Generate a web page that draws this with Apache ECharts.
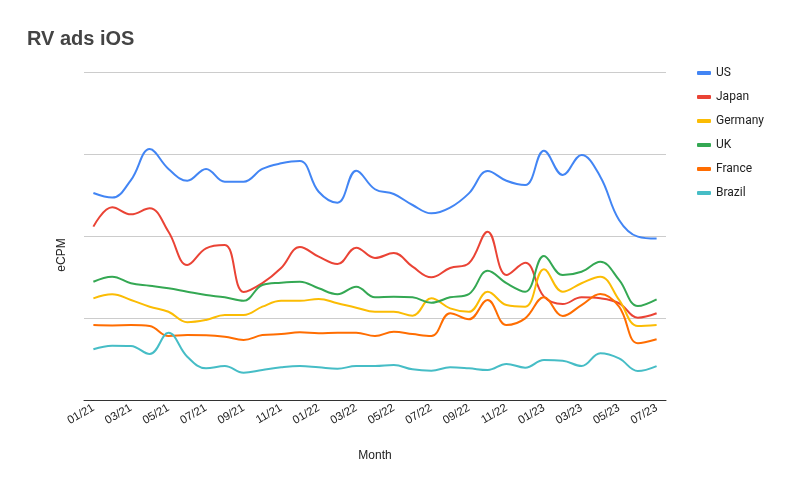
<!DOCTYPE html>
<html><head><meta charset="utf-8">
<script src="https://cdn.jsdelivr.net/npm/echarts@6/dist/echarts.min.js"></script>
<style>html,body{margin:0;padding:0;background:#fff}#c{width:787px;height:486px}</style>
</head><body><div id="c"></div>
<script>
const months = ["01/21","02/21","03/21","04/21","05/21","06/21","07/21","08/21","09/21","10/21","11/21","12/21",
"01/22","02/22","03/22","04/22","05/22","06/22","07/22","08/22","09/22","10/22","11/22","12/22",
"01/23","02/23","03/23","04/23","05/23","06/23","07/23"];
const us = [12.62,12.34,13.41,15.30,14.09,13.37,14.09,13.31,13.31,14.09,14.43,14.57,12.70,12.03,13.98,12.85,12.56,11.89,11.38,11.73,12.60,13.96,13.37,13.11,15.20,13.72,14.94,13.62,10.98,9.96,9.84];
const japan = [10.57,11.75,11.32,11.69,10.26,8.23,9.25,9.45,6.59,7.13,8.05,9.33,8.74,8.29,9.29,8.66,8.96,8.13,7.48,8.05,8.34,10.26,7.62,8.37,6.30,5.85,6.26,6.20,5.90,5.02,5.29];
const germany = [6.20,6.45,6.10,5.69,5.38,4.74,4.88,5.18,5.18,5.69,6.05,6.05,6.16,5.90,5.63,5.38,5.38,5.14,6.20,5.59,5.38,6.60,5.79,5.69,7.97,6.60,7.12,7.52,6.10,4.51,4.57];
const uk = [7.21,7.52,7.12,6.97,6.81,6.60,6.40,6.26,6.05,7.01,7.15,7.21,6.81,6.45,6.91,6.26,6.30,6.26,5.93,6.26,6.46,7.88,7.12,6.60,8.78,7.62,7.82,8.43,7.32,5.73,6.14];
const france = [4.57,4.55,4.57,4.51,3.90,3.96,3.95,3.86,3.66,3.96,4.02,4.13,4.07,4.10,4.10,3.90,4.16,4.02,3.90,5.29,4.92,6.10,4.57,4.98,6.26,5.12,5.79,6.46,5.69,3.46,3.70];
const brazil = [3.09,3.31,3.29,2.80,4.10,2.64,1.93,2.07,1.66,1.83,1.99,2.07,1.99,1.91,2.07,2.07,2.13,1.87,1.79,1.99,1.93,1.83,2.20,1.97,2.44,2.40,2.07,2.85,2.54,1.77,2.07];
const seriesNames = ["US","Japan","Germany","UK","France","Brazil"];
const seriesData = [us, japan, germany, uk, france, brazil];
const colors = ["#4285F4","#EA4335","#FBBC04","#34A853","#FF6D01","#46BDC6"];

const chart = echarts.init(document.getElementById('c'), null, {renderer:'canvas'});
chart.setOption({
  animation:false,
  color: colors,
  title:{text:"RV ads iOS", left:22, top:24, textStyle:{fontFamily:"'Liberation Sans', Arial, sans-serif", fontSize:20, fontWeight:'bold', color:'#444'}},
  legend:{orient:'vertical', left:692, top:62, itemGap:12, itemWidth:14, itemHeight:4,
    icon:'roundRect', textStyle:{fontFamily:"Roboto, Arial, sans-serif", fontSize:12, color:'#222'},
    data: seriesNames},
  grid:{left:84, right:121, top:72, bottom:86},
  xAxis:{type:'category', data:months, boundaryGap:true,
    name:'Month', nameLocation:'middle', nameGap:50,
    nameTextStyle:{fontFamily:"'Liberation Sans', Arial, sans-serif", fontSize:12, color:'#222'},
    axisLine:{lineStyle:{color:'#333', width:1}}, axisTick:{show:false},
    axisLabel:{interval:1, rotate:30, fontFamily:"'Liberation Sans', Arial, sans-serif", fontSize:11.5, color:'#222', margin:7}},
  yAxis:{type:'value', min:0, max:20, interval:5,
    name:'eCPM', nameLocation:'middle', nameGap:16,
    nameTextStyle:{fontFamily:"'Liberation Sans', Arial, sans-serif", fontSize:12, color:'#222', padding:[0,38,0,0]},
    axisLabel:{show:false}, axisLine:{show:false}, axisTick:{show:false},
    splitLine:{lineStyle:{color:'#ccc', width:1}}},
  series: seriesNames.map((n,i)=>({name:n, type:'line', data:seriesData[i], smooth:0.4,
    showSymbol:false, symbol:'none', lineStyle:{width:2, color:colors[i]}, itemStyle:{color:colors[i]}}))
});
</script></body></html>
